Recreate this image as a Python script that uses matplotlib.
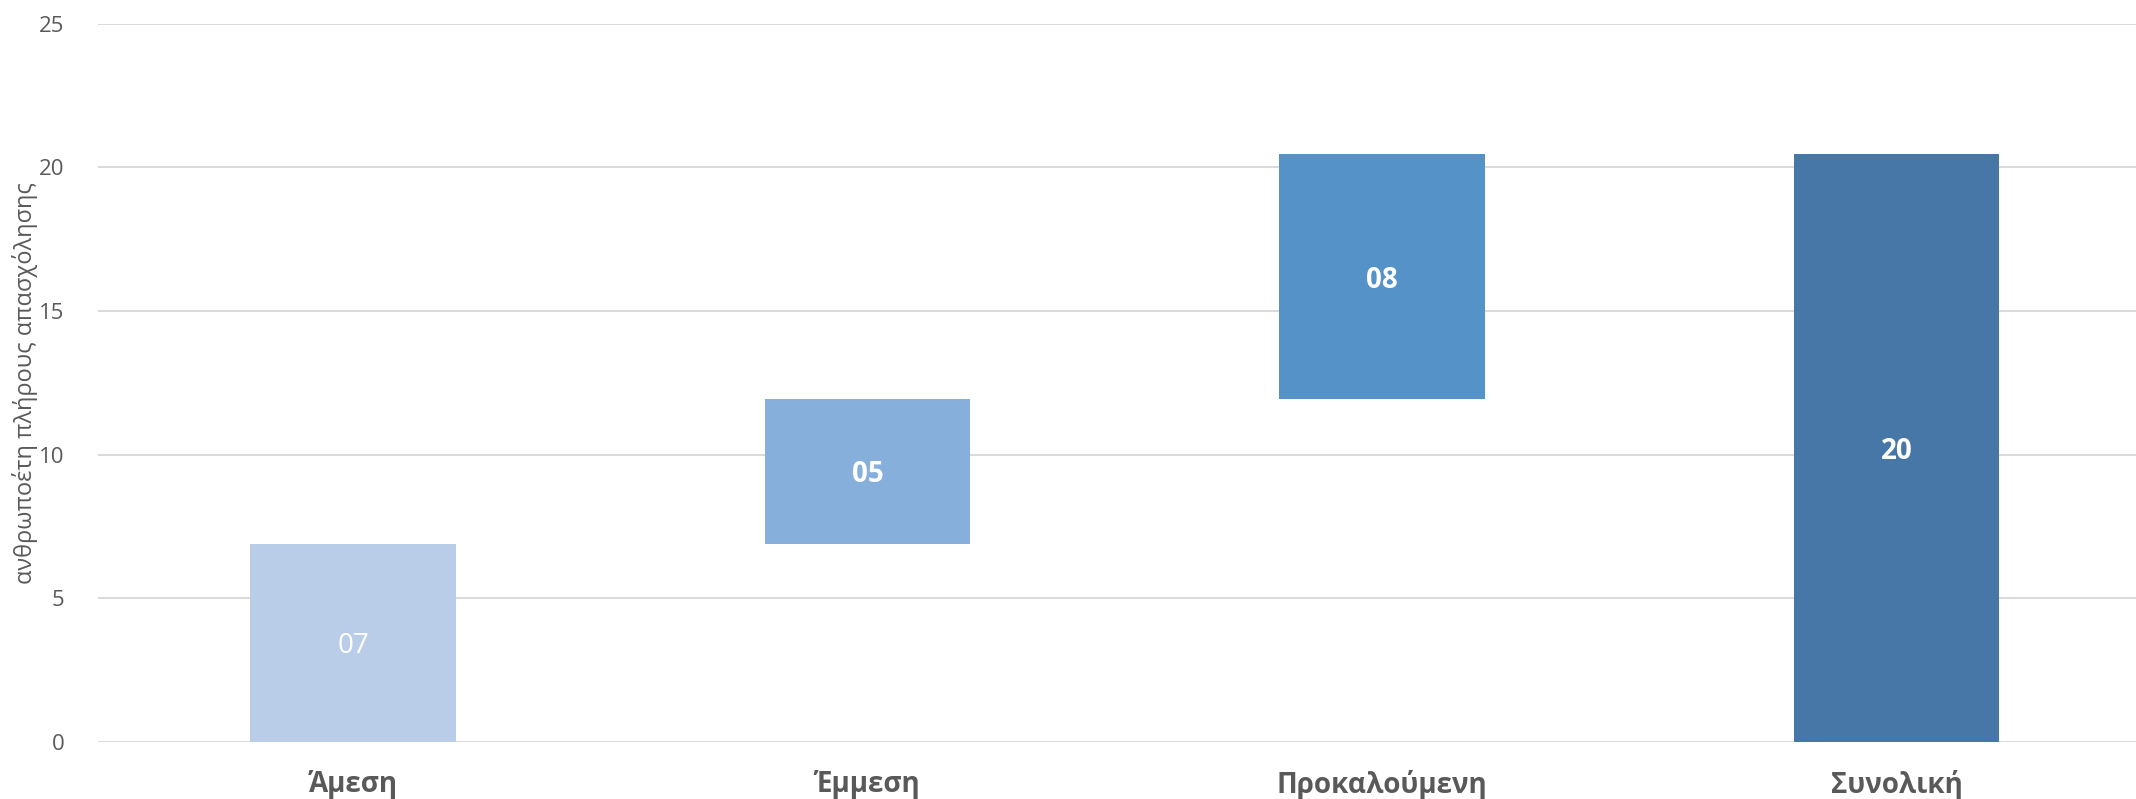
import matplotlib
matplotlib.use('Agg')
import matplotlib.pyplot as plt

# --- Data ---
categories = ['Άμεση', 'Έμμεση', 'Προκαλούμενη', 'Συνολική']
steps = [6.9, 5.05, 8.5]          # waterfall increments
total = 20.45                     # total bar
labels = ['07', '05', '08', '20']
colors = ['#B9CDE9', '#87AFDC', '#5592C8', '#4677A6']

bottoms = [0, steps[0], steps[0] + steps[1], 0]
heights = steps + [total]

plt.rcParams['font.family'] = ['Open Sans', 'DejaVu Sans']

fig = plt.figure(figsize=(21.36, 7.99), dpi=100)
ax = fig.add_axes([0.0459, 0.0713, 0.9541, 0.899])

x = range(len(categories))
bars = ax.bar(x, heights, bottom=bottoms, color=colors, width=0.4, zorder=2)

# value labels inside the bars
for i, bar in enumerate(bars):
    cx = bar.get_x() + bar.get_width() / 2
    cy = bar.get_y() + bar.get_height() / 2
    ax.text(cx, cy, labels[i], ha='center', va='center_baseline', color='white',
            fontsize=20, fontweight='normal' if i == 0 else 'bold', zorder=3)

ax.set_ylim(0, 25)
ax.set_xlim(-0.4956, 3.4655)
ax.set_yticks([0, 5, 10, 15, 20, 25])
ax.yaxis.grid(True, color='#D9D9D9', linewidth=1.4, zorder=0)
ax.set_axisbelow(True)

ax.set_xticks(list(x))
ax.set_xticklabels(categories, fontsize=20, fontweight='bold', color='#595959')
ax.tick_params(axis='x', length=0, pad=20)
ax.tick_params(axis='y', length=0, pad=24, labelsize=16, labelcolor='#595959')

for s in ax.spines.values():
    s.set_visible(False)

ax.set_ylabel('ανθρωποέτη πλήρους απασχόλησης', fontsize=17, color='#595959')
ax.yaxis.set_label_coords(-0.0294, 0.5)

fig.savefig('out.png', dpi=100)
